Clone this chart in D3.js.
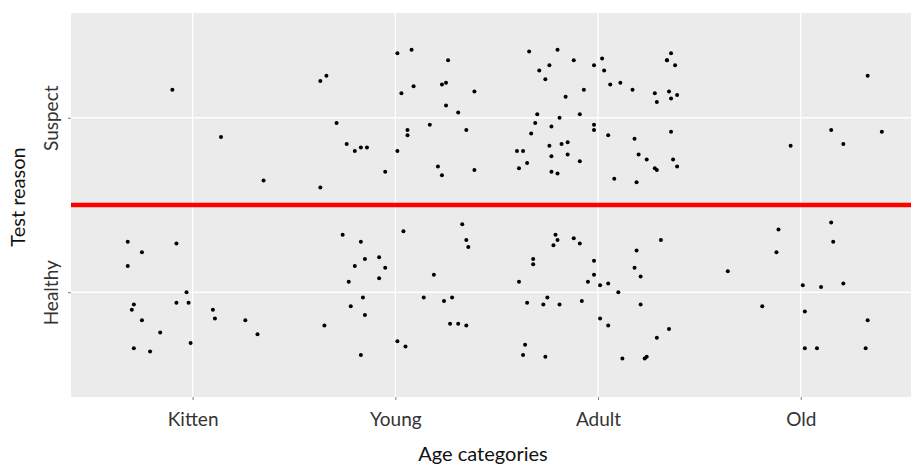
<!DOCTYPE html>
<html>
<head>
<meta charset="utf-8">
<script src="https://cdn.jsdelivr.net/npm/d3@7"></script>
<style>
  body { margin: 0; background: #fff; }
  text { font-family: Lato, "Open Sans", sans-serif; }
</style>
</head>
<body>
<svg id="drawing_region"></svg>
<script>
// categories and levels
const ageCategories = ['Kitten', 'Young', 'Adult', 'Old'];
const testReasons = ['Healthy', 'Suspect'];

// jittered points: [x offset, y offset] from the category / reason position
const kittenSuspect = [[-0.10, 0.16], [0.14, -0.11], [0.35, -0.36]];
const kittenHealthy = [
  [-0.32, 0.29], [-0.08, 0.28], [-0.25, 0.23], [-0.32, 0.15], [-0.03, 0.00],
  [-0.29, -0.07], [-0.30, -0.10], [-0.08, -0.06], [-0.02, -0.06], [0.10, -0.10],
  [0.11, -0.15], [-0.25, -0.16], [0.26, -0.16], [0.32, -0.24], [-0.16, -0.23],
  [-0.01, -0.29], [-0.29, -0.32], [-0.21, -0.34]
];
const youngSuspect = [
  [0.01, 0.37], [0.08, 0.39], [0.26, 0.33], [-0.34, 0.24], [-0.37, 0.21],
  [0.09, 0.18], [0.03, 0.14], [0.23, 0.19], [0.25, 0.20], [0.39, 0.15],
  [0.25, 0.07], [0.31, 0.03], [-0.29, -0.03], [0.17, -0.04], [0.06, -0.07],
  [0.35, -0.07], [0.06, -0.10], [-0.24, -0.15], [-0.17, -0.17], [-0.14, -0.17],
  [-0.20, -0.19], [0.01, -0.19], [-0.05, -0.31], [0.21, -0.28], [0.23, -0.33],
  [0.39, -0.30], [-0.37, -0.40]
];
const youngHealthy = [
  [0.33, 0.39], [0.04, 0.35], [-0.26, 0.33], [-0.17, 0.29], [0.35, 0.30],
  [0.36, 0.26], [-0.08, 0.20], [-0.15, 0.19], [-0.20, 0.15], [-0.05, 0.14],
  [0.19, 0.10], [-0.08, 0.08], [-0.23, 0.06], [-0.16, -0.03], [0.14, -0.03],
  [0.28, -0.03], [0.24, -0.05], [-0.22, -0.08], [-0.15, -0.13], [-0.35, -0.19],
  [0.27, -0.18], [0.31, -0.18], [0.35, -0.19], [0.01, -0.28], [0.05, -0.31],
  [-0.17, -0.36]
];
const adultSuspect = [
  [-0.34, 0.38], [-0.20, 0.39], [-0.12, 0.33], [0.02, 0.34], [-0.02, 0.30],
  [0.03, 0.27], [-0.24, 0.30], [-0.29, 0.27], [-0.26, 0.22], [0.36, 0.37],
  [0.34, 0.33], [0.34, 0.33], [0.38, 0.30], [0.06, 0.19], [0.11, 0.20],
  [0.17, 0.16], [-0.07, 0.16], [-0.16, 0.12], [0.28, 0.14], [0.35, 0.15],
  [0.39, 0.13], [0.36, 0.11], [0.29, 0.09], [-0.30, 0.02], [-0.09, 0.02],
  [-0.19, 0.00], [-0.31, -0.03], [-0.02, -0.04], [-0.23, -0.05], [-0.02, -0.07],
  [-0.33, -0.09], [0.05, -0.10], [0.36, -0.08], [0.18, -0.12], [-0.24, -0.16],
  [-0.18, -0.15], [-0.15, -0.14], [-0.40, -0.19], [-0.37, -0.19], [-0.23, -0.22],
  [-0.15, -0.21], [0.20, -0.21], [-0.35, -0.26], [-0.09, -0.25], [0.24, -0.24],
  [0.37, -0.24], [-0.39, -0.29], [0.28, -0.29], [0.29, -0.30], [0.39, -0.28],
  [-0.23, -0.31], [-0.20, -0.32], [0.08, -0.35], [0.19, -0.37]
];
const adultHealthy = [
  [-0.21, 0.33], [-0.20, 0.30], [-0.12, 0.31], [-0.09, 0.28], [-0.22, 0.27],
  [0.31, 0.30], [0.19, 0.24], [-0.32, 0.19], [-0.32, 0.16], [-0.02, 0.18],
  [0.18, 0.14], [-0.02, 0.10], [0.21, 0.09], [-0.39, 0.06], [-0.05, 0.06],
  [0.01, 0.04], [0.05, 0.05], [0.10, 0.00], [-0.25, -0.03], [-0.35, -0.06],
  [-0.27, -0.07], [-0.19, -0.07], [-0.08, -0.05], [0.21, -0.07], [0.01, -0.15],
  [0.05, -0.19], [0.35, -0.21], [0.29, -0.26], [-0.36, -0.30], [-0.37, -0.36],
  [-0.26, -0.37], [0.12, -0.38], [0.23, -0.38], [0.24, -0.37]
];
const oldSuspect = [[0.33, 0.24], [0.15, -0.07], [0.40, -0.08], [0.21, -0.15], [-0.05, -0.16]];
const oldHealthy = [
  [0.15, 0.40], [-0.11, 0.36], [0.16, 0.29], [-0.12, 0.23], [-0.36, 0.12],
  [0.01, 0.04], [0.10, 0.03], [0.21, 0.05], [-0.19, -0.08], [0.02, -0.11],
  [0.33, -0.16], [0.02, -0.32], [0.08, -0.32], [0.32, -0.32]
];

// boundary drawn in red between the two groups
const cutLevel = 1.5;

const groups = [
  { age: 'Kitten', reason: 'Suspect', pts: kittenSuspect },
  { age: 'Kitten', reason: 'Healthy', pts: kittenHealthy },
  { age: 'Young', reason: 'Suspect', pts: youngSuspect },
  { age: 'Young', reason: 'Healthy', pts: youngHealthy },
  { age: 'Adult', reason: 'Suspect', pts: adultSuspect },
  { age: 'Adult', reason: 'Healthy', pts: adultHealthy },
  { age: 'Old', reason: 'Suspect', pts: oldSuspect },
  { age: 'Old', reason: 'Healthy', pts: oldHealthy },
];

let data = [];
groups.forEach( g => {
    g.pts.forEach( p => {
        data.push({
            x: ageCategories.indexOf(g.age) + 1 + p[0],
            y: testReasons.indexOf(g.reason) + 1 + p[1]
        });
    });
});

const W = 911, H = 464;
const panel = { left: 71, top: 13, right: 922.4, bottom: 397 };

const svg = d3.select('#drawing_region')
    .attr('width', W)
    .attr('height', H);

const xscale = d3.scaleLinear()
    .domain([0.4, ageCategories.length + 0.6])
    .range([panel.left, panel.right]);

const yscale = d3.scaleLinear()
    .domain([0.4, testReasons.length + 0.6])
    .range([panel.bottom, panel.top]);

// panel background
svg.append('rect')
    .attr('x', panel.left)
    .attr('y', panel.top)
    .attr('width', panel.right - panel.left)
    .attr('height', panel.bottom - panel.top)
    .attr('fill', '#ebebeb');

// grid lines
const grid = svg.append('g');
grid.selectAll('.vg')
    .data(ageCategories)
    .enter()
    .append('line')
    .attr('x1', (d, i) => xscale(i + 1))
    .attr('x2', (d, i) => xscale(i + 1))
    .attr('y1', panel.top)
    .attr('y2', panel.bottom)
    .attr('stroke', 'white')
    .attr('stroke-width', 1.3);
grid.selectAll('.hg')
    .data(testReasons)
    .enter()
    .append('line')
    .attr('y1', (d, i) => yscale(i + 1))
    .attr('y2', (d, i) => yscale(i + 1))
    .attr('x1', panel.left)
    .attr('x2', panel.right)
    .attr('stroke', 'white')
    .attr('stroke-width', 1.3);

// points
svg.append('g')
    .selectAll('circle')
    .data(data)
    .enter()
    .append('circle')
    .attr('cx', d => xscale(d.x))
    .attr('cy', d => yscale(d.y))
    .attr('r', 2)
    .attr('fill', 'black');

// red cut line
svg.append('line')
    .attr('x1', panel.left)
    .attr('x2', panel.right)
    .attr('y1', yscale(cutLevel))
    .attr('y2', yscale(cutLevel))
    .attr('stroke', '#ff0000')
    .attr('stroke-width', 4.5);

// axes
const xaxis = d3.axisBottom(xscale)
    .tickValues(ageCategories.map((d, i) => i + 1))
    .tickFormat((d, i) => ageCategories[i])
    .tickSize(3)
    .tickPadding(13);

const yaxis = d3.axisLeft(yscale)
    .tickValues(testReasons.map((d, i) => i + 1))
    .tickFormat((d, i) => testReasons[i])
    .tickSize(3);

const gx = svg.append('g')
    .attr('transform', `translate(0, ${panel.bottom})`)
    .call(xaxis);
gx.select('.domain').remove();
gx.selectAll('line').attr('stroke', '#7f7f7f');
gx.selectAll('text')
    .attr('font-size', 19)
    .attr('fill', '#333');

const gy = svg.append('g')
    .attr('transform', `translate(${panel.left}, 0)`)
    .call(yaxis);
gy.select('.domain').remove();
gy.selectAll('line').attr('stroke', '#7f7f7f');
gy.selectAll('text')
    .attr('font-size', 19)
    .attr('fill', '#333')
    .attr('text-anchor', 'middle')
    .attr('x', 0)
    .attr('y', 0)
    .attr('dy', null)
    .attr('transform', 'translate(-13, 0) rotate(-90)');

// axis titles
svg.append('text')
    .attr('x', 483)
    .attr('y', 461)
    .attr('text-anchor', 'middle')
    .attr('font-size', 20)
    .attr('fill', '#111')
    .text('Age categories');

svg.append('text')
    .attr('transform', 'translate(25, 197) rotate(-90)')
    .attr('text-anchor', 'middle')
    .attr('font-size', 20)
    .attr('fill', '#111')
    .text('Test reason');
</script>
</body>
</html>
